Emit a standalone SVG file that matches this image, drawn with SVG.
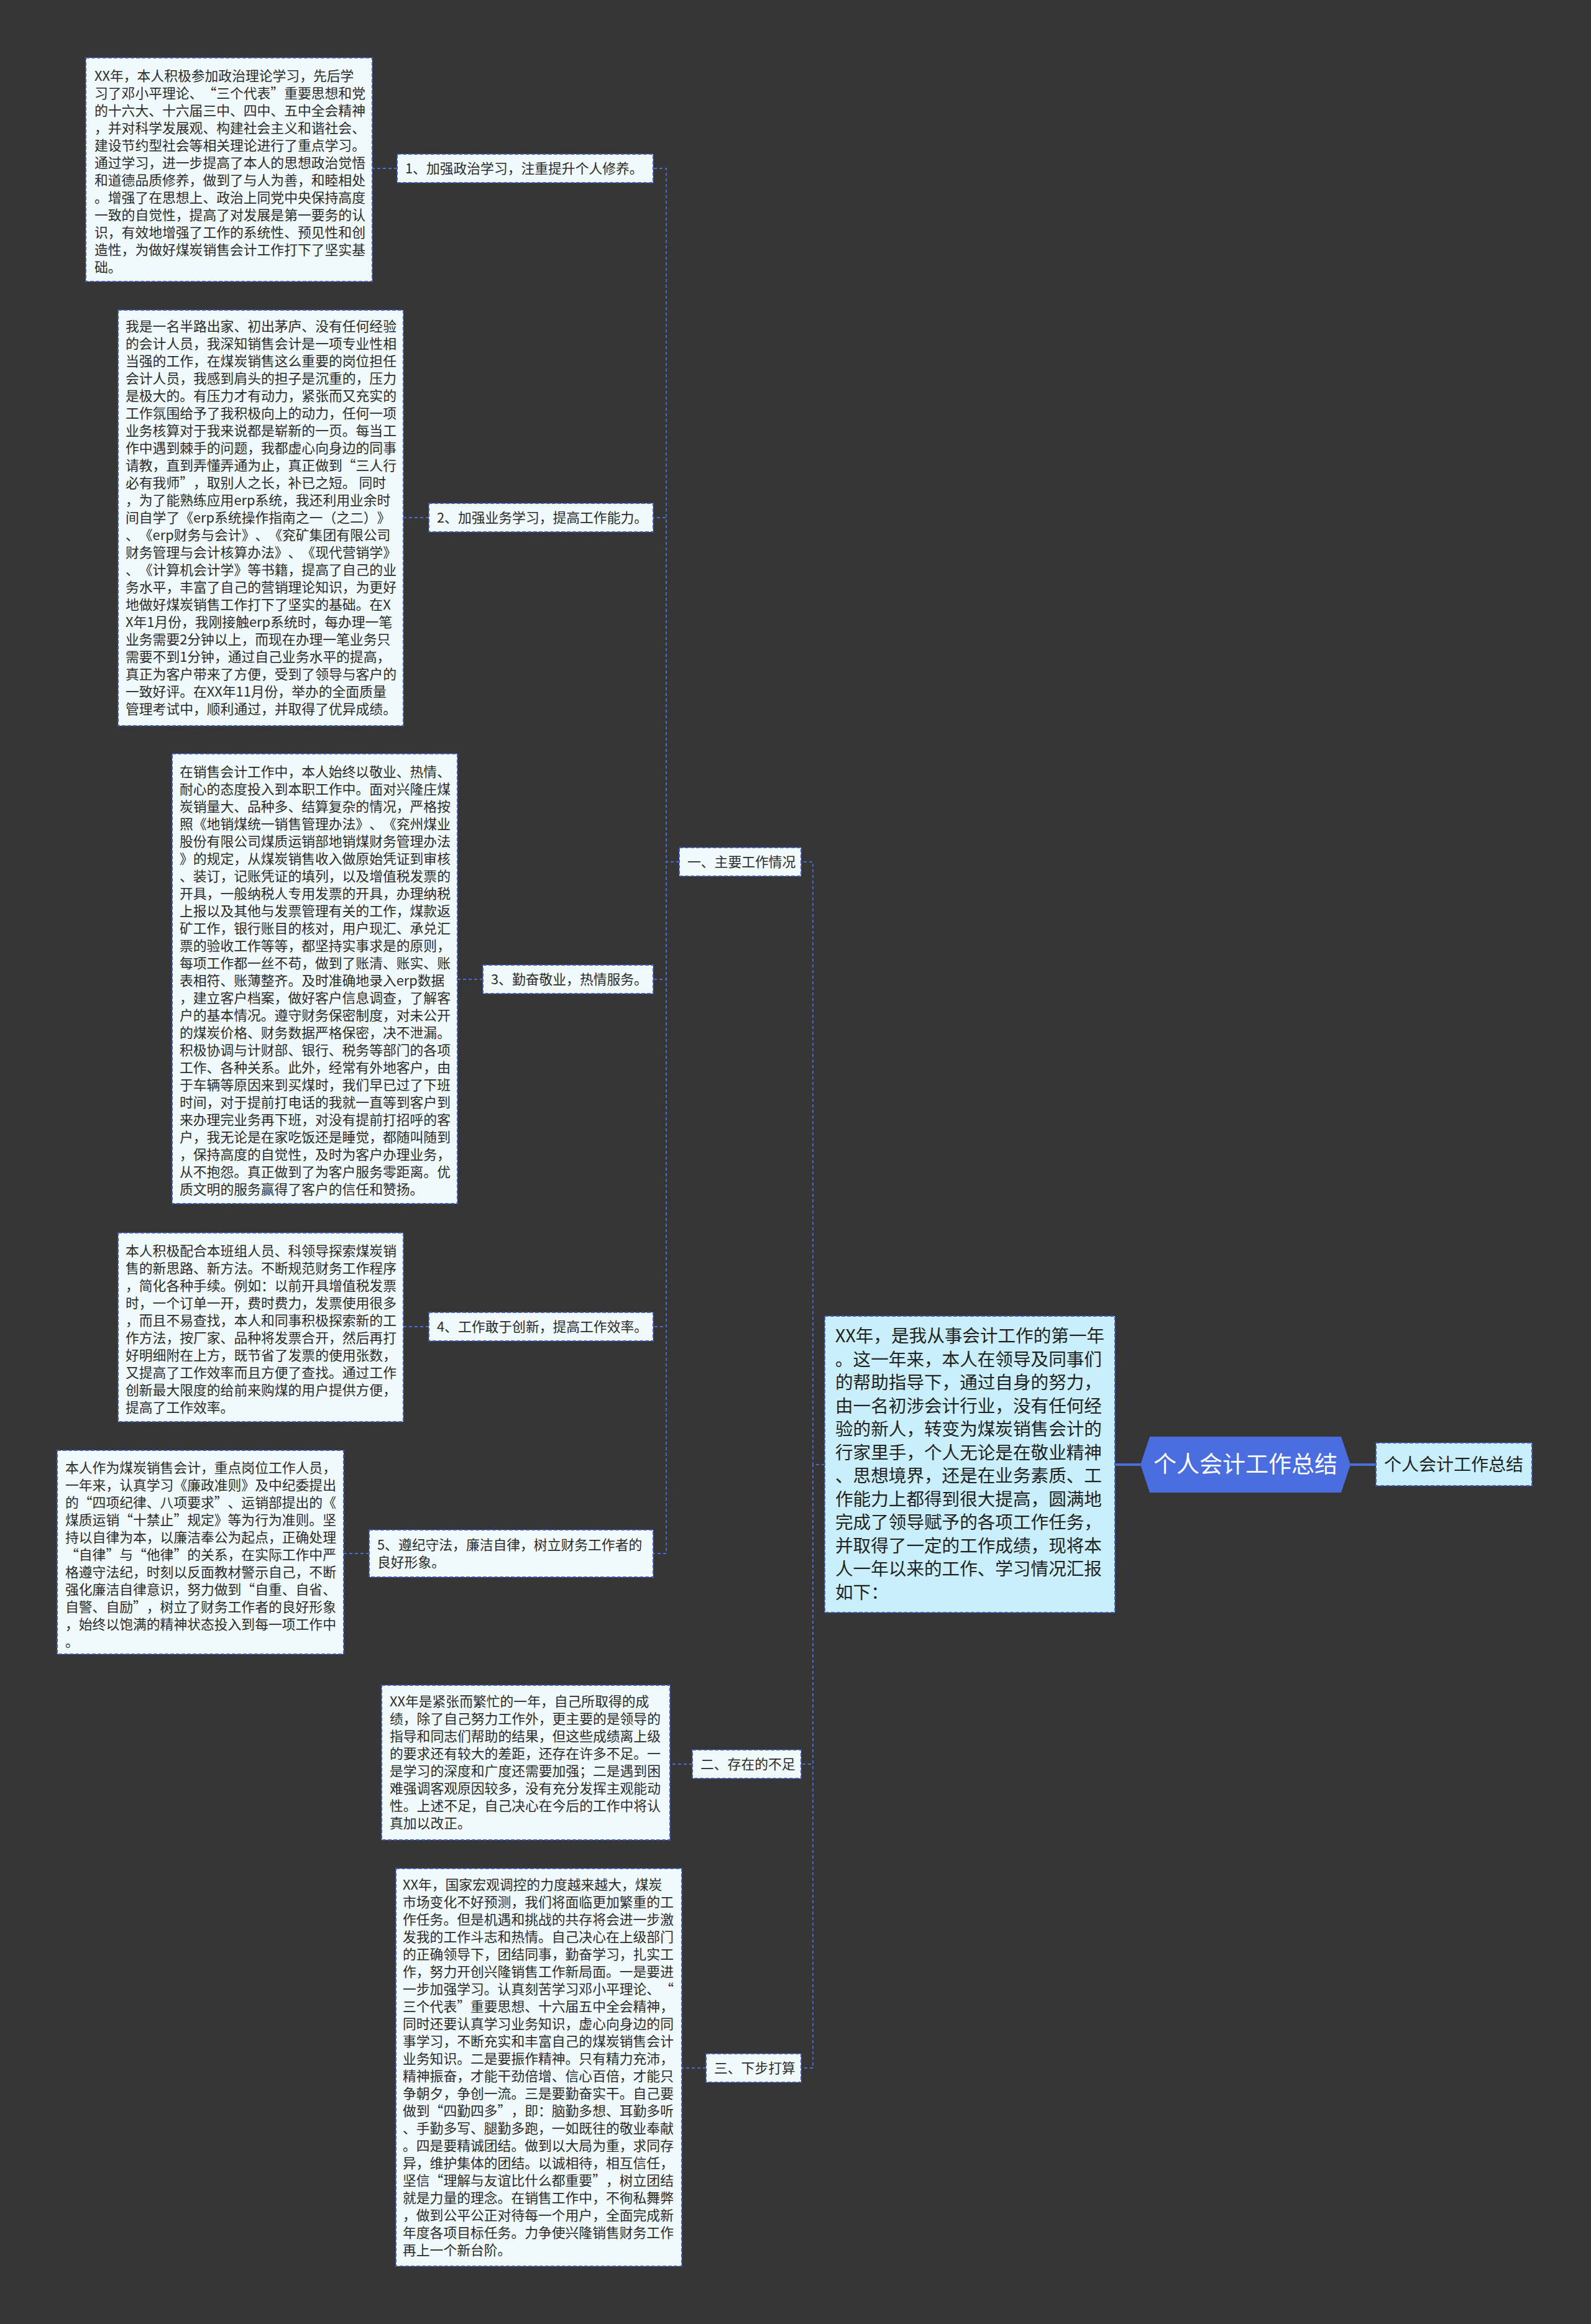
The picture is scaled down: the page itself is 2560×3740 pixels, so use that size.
<svg xmlns="http://www.w3.org/2000/svg" width="2560" height="3740" viewBox="0 0 2560 3740">
<style>
.bg{fill:#363636}
.box{fill:#f0fafd;stroke:#3f5bbf;stroke-width:2;stroke-dasharray:6 3}
.lbl{fill:#f0fafd;stroke:#3f5bbf;stroke-width:2;stroke-dasharray:6 3}
.main{fill:#c9eefc;stroke:#3f5bbf;stroke-width:2;stroke-dasharray:6 3}
text{text-spacing-trim:space-all}
.t{font-family:"Noto Sans CJK SC","Noto Sans",sans-serif;font-size:21.8px;fill:#2b2b2b}
.tm{font-family:"Noto Sans CJK SC","Noto Sans",sans-serif;font-size:28.6px;fill:#222}
.tc{font-family:"Noto Sans CJK SC","Noto Sans",sans-serif;font-size:37px;fill:#ffffff}
.tr{font-family:"Noto Sans CJK SC","Noto Sans",sans-serif;font-size:28px;fill:#222}
.c{fill:none;stroke:#4d6ad0;stroke-width:1.8;stroke-dasharray:5 4}
.ct{fill:none;stroke:#4a6ddf;stroke-width:4}
</style>
<rect class="bg" x="0" y="0" width="2560" height="3740"/>
<g id="connectors">
<path class="ct" d="M1794,2357 H1835"/>
<path class="ct" d="M2173,2357 H2214"/>
<path class="c" d="M1327,2357 H1308 V1387 H1289"/>
<path class="c" d="M1327,2357 H1308 V2839 H1289"/>
<path class="c" d="M1327,2357 H1308 V3328 H1289"/>
<path class="c" d="M1093,1387 H1072 V271 H1051"/>
<path class="c" d="M1093,1387 H1072 V833 H1051"/>
<path class="c" d="M1093,1387 H1072 V1576 H1051"/>
<path class="c" d="M1093,1387 H1072 V2135 H1051"/>
<path class="c" d="M1093,1387 H1072 V2500 H1051"/>
<path class="c" d="M639,271 H599"/>
<path class="c" d="M690,833 H649"/>
<path class="c" d="M777,1576 H736"/>
<path class="c" d="M690,2135 H649"/>
<path class="c" d="M594,2500 H553"/>
<path class="c" d="M1114,2839 H1078"/>
<path class="c" d="M1136,3328 H1097"/>
</g>
<g id="root">
<polygon points="1850,2312 2158,2312 2173,2357 2158,2402 1850,2402 1835,2357" fill="#4a6ddf"/>
<text class="tc" x="2004" y="2370" text-anchor="middle">个人会计工作总结</text>
</g>
<g id="right-node">
<rect class="main" x="2214" y="2322" width="251" height="69"/>
<text class="tr" x="2227" y="2367">个人会计工作总结</text>
</g>
<g id="intro">
<rect class="main" x="1327" y="2118" width="467" height="477"/>
<text class="tm" x="1344" y="2160"><tspan x="1344">XX年，是我从事会计工作的第一年</tspan><tspan x="1344" dy="37.5">。这一年来，本人在领导及同事们</tspan><tspan x="1344" dy="37.5">的帮助指导下，通过自身的努力，</tspan><tspan x="1344" dy="37.5">由一名初涉会计行业，没有任何经</tspan><tspan x="1344" dy="37.5">验的新人，转变为煤炭销售会计的</tspan><tspan x="1344" dy="37.5">行家里手，个人无论是在敬业精神</tspan><tspan x="1344" dy="37.5">、思想境界，还是在业务素质、工</tspan><tspan x="1344" dy="37.5">作能力上都得到很大提高，圆满地</tspan><tspan x="1344" dy="37.5">完成了领导赋予的各项工作任务，</tspan><tspan x="1344" dy="37.5">并取得了一定的工作成绩，现将本</tspan><tspan x="1344" dy="37.5">人一年以来的工作、学习情况汇报</tspan><tspan x="1344" dy="37.5">如下：</tspan></text>
</g>
<g id="sec1">
<rect class="lbl" x="1093" y="1364" width="196" height="46"/>
<text class="t" x="1106" y="1395">一、主要工作情况</text>
</g>
<g id="sec2">
<rect class="lbl" x="1114" y="2816" width="175" height="46"/>
<text class="t" x="1127" y="2847">二、存在的不足</text>
</g>
<g id="sec3">
<rect class="lbl" x="1136" y="3305" width="153" height="46"/>
<text class="t" x="1149" y="3336">三、下步打算</text>
</g>
<g id="item1">
<rect class="lbl" x="639" y="248" width="412" height="46"/>
<text class="t" x="652" y="279">1、加强政治学习，注重提升个人修养。</text>
</g>
<g id="item2">
<rect class="lbl" x="690" y="810" width="361" height="46"/>
<text class="t" x="703" y="841">2、加强业务学习，提高工作能力。</text>
</g>
<g id="item3">
<rect class="lbl" x="777" y="1553" width="274" height="46"/>
<text class="t" x="790" y="1584">3、勤奋敬业，热情服务。</text>
</g>
<g id="item4">
<rect class="lbl" x="690" y="2112" width="361" height="46"/>
<text class="t" x="703" y="2143">4、工作敢于创新，提高工作效率。</text>
</g>
<g id="item5">
<rect class="lbl" x="594" y="2462" width="457" height="76"/>
<text class="t" x="607" y="2494"><tspan x="607">5、遵纪守法，廉洁自律，树立财务工作者的</tspan><tspan x="607" dy="28">良好形象。</tspan></text>
</g>
<g id="text1">
<rect class="box" x="138" y="93" width="461" height="360"/>
<text class="t" x="152" y="130"><tspan x="152">XX年，本人积极参加政治理论学习，先后学</tspan><tspan x="152" dy="28">习了邓小平理论、“三个代表”重要思想和党</tspan><tspan x="152" dy="28">的十六大、十六届三中、四中、五中全会精神</tspan><tspan x="152" dy="28">，并对科学发展观、构建社会主义和谐社会、</tspan><tspan x="152" dy="28">建设节约型社会等相关理论进行了重点学习。</tspan><tspan x="152" dy="28">通过学习，进一步提高了本人的思想政治觉悟</tspan><tspan x="152" dy="28">和道德品质修养，做到了与人为善，和睦相处</tspan><tspan x="152" dy="28">。增强了在思想上、政治上同党中央保持高度</tspan><tspan x="152" dy="28">一致的自觉性，提高了对发展是第一要务的认</tspan><tspan x="152" dy="28">识，有效地增强了工作的系统性、预见性和创</tspan><tspan x="152" dy="28">造性，为做好煤炭销售会计工作打下了坚实基</tspan><tspan x="152" dy="28">础。</tspan></text>
</g>
<g id="text2">
<rect class="box" x="190" y="499" width="459" height="669"/>
<text class="t" x="202" y="533"><tspan x="202">我是一名半路出家、初出茅庐、没有任何经验</tspan><tspan x="202" dy="28">的会计人员，我深知销售会计是一项专业性相</tspan><tspan x="202" dy="28">当强的工作，在煤炭销售这么重要的岗位担任</tspan><tspan x="202" dy="28">会计人员，我感到肩头的担子是沉重的，压力</tspan><tspan x="202" dy="28">是极大的。有压力才有动力，紧张而又充实的</tspan><tspan x="202" dy="28">工作氛围给予了我积极向上的动力，任何一项</tspan><tspan x="202" dy="28">业务核算对于我来说都是崭新的一页。每当工</tspan><tspan x="202" dy="28">作中遇到棘手的问题，我都虚心向身边的同事</tspan><tspan x="202" dy="28">请教，直到弄懂弄通为止，真正做到“三人行</tspan><tspan x="202" dy="28">必有我师”，取别人之长，补已之短。 同时</tspan><tspan x="202" dy="28">，为了能熟练应用erp系统，我还利用业余时</tspan><tspan x="202" dy="28">间自学了《erp系统操作指南之一（之二）》</tspan><tspan x="202" dy="28">、《erp财务与会计》、《兖矿集团有限公司</tspan><tspan x="202" dy="28">财务管理与会计核算办法》、《现代营销学》</tspan><tspan x="202" dy="28">、《计算机会计学》等书籍，提高了自己的业</tspan><tspan x="202" dy="28">务水平，丰富了自己的营销理论知识，为更好</tspan><tspan x="202" dy="28">地做好煤炭销售工作打下了坚实的基础。在X</tspan><tspan x="202" dy="28">X年1月份，我刚接触erp系统时，每办理一笔</tspan><tspan x="202" dy="28">业务需要2分钟以上，而现在办理一笔业务只</tspan><tspan x="202" dy="28">需要不到1分钟，通过自己业务水平的提高，</tspan><tspan x="202" dy="28">真正为客户带来了方便，受到了领导与客户的</tspan><tspan x="202" dy="28">一致好评。在XX年11月份，举办的全面质量</tspan><tspan x="202" dy="28">管理考试中，顺利通过，并取得了优异成绩。</tspan></text>
</g>
<g id="text3">
<rect class="box" x="277" y="1213" width="459" height="724"/>
<text class="t" x="289" y="1250"><tspan x="289">在销售会计工作中，本人始终以敬业、热情、</tspan><tspan x="289" dy="28">耐心的态度投入到本职工作中。面对兴隆庄煤</tspan><tspan x="289" dy="28">炭销量大、品种多、结算复杂的情况，严格按</tspan><tspan x="289" dy="28">照《地销煤统一销售管理办法》、《兖州煤业</tspan><tspan x="289" dy="28">股份有限公司煤质运销部地销煤财务管理办法</tspan><tspan x="289" dy="28">》的规定，从煤炭销售收入做原始凭证到审核</tspan><tspan x="289" dy="28">、装订，记账凭证的填列，以及增值税发票的</tspan><tspan x="289" dy="28">开具，一般纳税人专用发票的开具，办理纳税</tspan><tspan x="289" dy="28">上报以及其他与发票管理有关的工作，煤款返</tspan><tspan x="289" dy="28">矿工作，银行账目的核对，用户现汇、承兑汇</tspan><tspan x="289" dy="28">票的验收工作等等，都坚持实事求是的原则，</tspan><tspan x="289" dy="28">每项工作都一丝不苟，做到了账清、账实、账</tspan><tspan x="289" dy="28">表相符、账薄整齐。及时准确地录入erp数据</tspan><tspan x="289" dy="28">，建立客户档案，做好客户信息调查，了解客</tspan><tspan x="289" dy="28">户的基本情况。遵守财务保密制度，对未公开</tspan><tspan x="289" dy="28">的煤炭价格、财务数据严格保密，决不泄漏。</tspan><tspan x="289" dy="28">积极协调与计财部、银行、税务等部门的各项</tspan><tspan x="289" dy="28">工作、各种关系。此外，经常有外地客户，由</tspan><tspan x="289" dy="28">于车辆等原因来到买煤时，我们早已过了下班</tspan><tspan x="289" dy="28">时间，对于提前打电话的我就一直等到客户到</tspan><tspan x="289" dy="28">来办理完业务再下班，对没有提前打招呼的客</tspan><tspan x="289" dy="28">户，我无论是在家吃饭还是睡觉，都随叫随到</tspan><tspan x="289" dy="28">，保持高度的自觉性，及时为客户办理业务，</tspan><tspan x="289" dy="28">从不抱怨。真正做到了为客户服务零距离。优</tspan><tspan x="289" dy="28">质文明的服务赢得了客户的信任和赞扬。</tspan></text>
</g>
<g id="text4">
<rect class="box" x="190" y="1984" width="459" height="304"/>
<text class="t" x="202" y="2021"><tspan x="202">本人积极配合本班组人员、科领导探索煤炭销</tspan><tspan x="202" dy="28">售的新思路、新方法。不断规范财务工作程序</tspan><tspan x="202" dy="28">，简化各种手续。例如：以前开具增值税发票</tspan><tspan x="202" dy="28">时，一个订单一开，费时费力，发票使用很多</tspan><tspan x="202" dy="28">，而且不易查找，本人和同事积极探索新的工</tspan><tspan x="202" dy="28">作方法，按厂家、品种将发票合开，然后再打</tspan><tspan x="202" dy="28">好明细附在上方，既节省了发票的使用张数，</tspan><tspan x="202" dy="28">又提高了工作效率而且方便了查找。通过工作</tspan><tspan x="202" dy="28">创新最大限度的给前来购煤的用户提供方便，</tspan><tspan x="202" dy="28">提高了工作效率。</tspan></text>
</g>
<g id="text5">
<rect class="box" x="92" y="2334" width="461" height="328"/>
<text class="t" x="105" y="2370"><tspan x="105">本人作为煤炭销售会计，重点岗位工作人员，</tspan><tspan x="105" dy="28">一年来，认真学习《廉政准则》及中纪委提出</tspan><tspan x="105" dy="28">的“四项纪律、八项要求”、运销部提出的《</tspan><tspan x="105" dy="28">煤质运销“十禁止”规定》等为行为准则。坚</tspan><tspan x="105" dy="28">持以自律为本，以廉洁奉公为起点，正确处理</tspan><tspan x="105" dy="28">“自律”与“他律”的关系，在实际工作中严</tspan><tspan x="105" dy="28">格遵守法纪，时刻以反面教材警示自己，不断</tspan><tspan x="105" dy="28">强化廉洁自律意识，努力做到“自重、自省、</tspan><tspan x="105" dy="28">自警、自励”，树立了财务工作者的良好形象</tspan><tspan x="105" dy="28">，始终以饱满的精神状态投入到每一项工作中</tspan><tspan x="105" dy="28">。</tspan></text>
</g>
<g id="text6">
<rect class="box" x="614" y="2712" width="464" height="249"/>
<text class="t" x="627" y="2746"><tspan x="627">XX年是紧张而繁忙的一年，自己所取得的成</tspan><tspan x="627" dy="28">绩，除了自己努力工作外，更主要的是领导的</tspan><tspan x="627" dy="28">指导和同志们帮助的结果，但这些成绩离上级</tspan><tspan x="627" dy="28">的要求还有较大的差距，还存在许多不足。一</tspan><tspan x="627" dy="28">是学习的深度和广度还需要加强；二是遇到困</tspan><tspan x="627" dy="28">难强调客观原因较多，没有充分发挥主观能动</tspan><tspan x="627" dy="28">性。上述不足，自己决心在今后的工作中将认</tspan><tspan x="627" dy="28">真加以改正。</tspan></text>
</g>
<g id="text7">
<rect class="box" x="637" y="3007" width="460" height="640"/>
<text class="t" x="648" y="3041"><tspan x="648">XX年，国家宏观调控的力度越来越大，煤炭</tspan><tspan x="648" dy="28">市场变化不好预测，我们将面临更加繁重的工</tspan><tspan x="648" dy="28">作任务。但是机遇和挑战的共存将会进一步激</tspan><tspan x="648" dy="28">发我的工作斗志和热情。自己决心在上级部门</tspan><tspan x="648" dy="28">的正确领导下，团结同事，勤奋学习，扎实工</tspan><tspan x="648" dy="28">作，努力开创兴隆销售工作新局面。一是要进</tspan><tspan x="648" dy="28">一步加强学习。认真刻苦学习邓小平理论、“</tspan><tspan x="648" dy="28">三个代表”重要思想、十六届五中全会精神，</tspan><tspan x="648" dy="28">同时还要认真学习业务知识，虚心向身边的同</tspan><tspan x="648" dy="28">事学习，不断充实和丰富自己的煤炭销售会计</tspan><tspan x="648" dy="28">业务知识。二是要振作精神。只有精力充沛，</tspan><tspan x="648" dy="28">精神振奋，才能干劲倍增、信心百倍，才能只</tspan><tspan x="648" dy="28">争朝夕，争创一流。三是要勤奋实干。自己要</tspan><tspan x="648" dy="28">做到“四勤四多”，即：脑勤多想、耳勤多听</tspan><tspan x="648" dy="28">、手勤多写、腿勤多跑，一如既往的敬业奉献</tspan><tspan x="648" dy="28">。四是要精诚团结。做到以大局为重，求同存</tspan><tspan x="648" dy="28">异，维护集体的团结。以诚相待，相互信任，</tspan><tspan x="648" dy="28">坚信“理解与友谊比什么都重要”，树立团结</tspan><tspan x="648" dy="28">就是力量的理念。在销售工作中，不徇私舞弊</tspan><tspan x="648" dy="28">，做到公平公正对待每一个用户，全面完成新</tspan><tspan x="648" dy="28">年度各项目标任务。力争使兴隆销售财务工作</tspan><tspan x="648" dy="28">再上一个新台阶。</tspan></text>
</g>
</svg>
